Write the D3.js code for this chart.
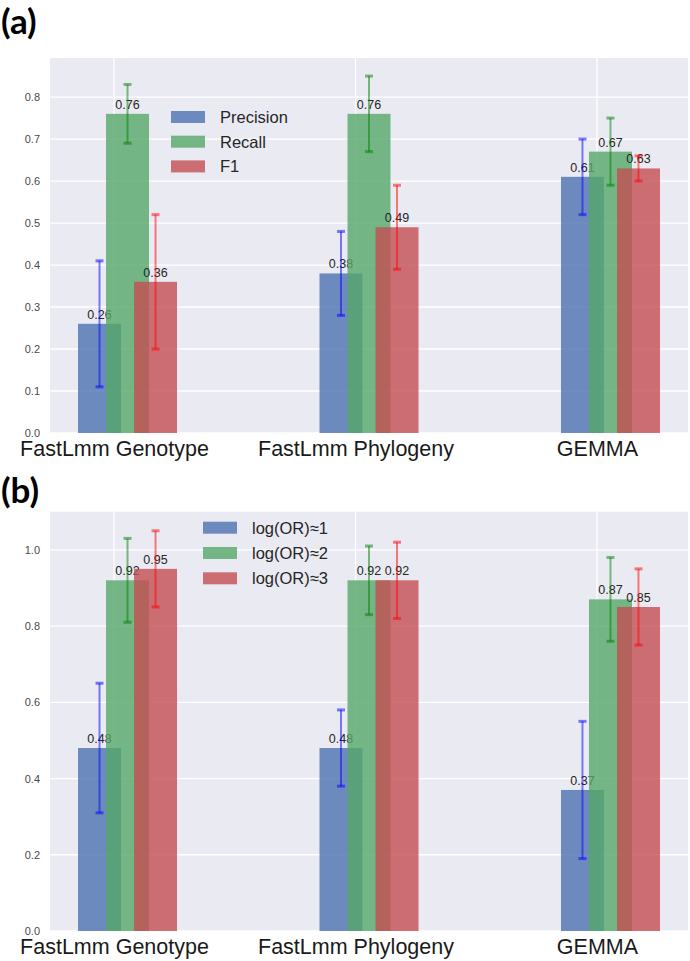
<!DOCTYPE html>
<html><head><meta charset="utf-8">
<script src="https://cdnjs.cloudflare.com/ajax/libs/d3/7.8.5/d3.min.js"></script>
<style>
html,body{margin:0;padding:0;background:#fff;}
svg{display:block;font-family:"Liberation Sans",Arial,sans-serif;}
</style></head>
<body>
<svg id="chart" width="690" height="961"></svg>
<script>
// ---- data ----
const categories = ["FastLmm Genotype", "FastLmm Phylogeny", "GEMMA"];

const seriesA = ["Precision", "Recall", "F1"];
const precision = [0.26, 0.38, 0.61];
const precisionErr = [0.15, 0.10, 0.09];
const recall = [0.76, 0.76, 0.67];
const recallErr = [0.07, 0.09, 0.08];
const f1 = [0.36, 0.49, 0.63];
const f1Err = [0.16, 0.10, 0.03];
const ticksA = [0.0, 0.1, 0.2, 0.3, 0.4, 0.5, 0.6, 0.7, 0.8];

const seriesB = ["log(OR)\u22481", "log(OR)\u22482", "log(OR)\u22483"];
const or1 = [0.48, 0.48, 0.37];
const or1Err = [0.17, 0.10, 0.18];
const or2 = [0.92, 0.92, 0.87];
const or2Err = [0.11, 0.09, 0.11];
const or3 = [0.95, 0.92, 0.85];
const or3Err = [0.10, 0.10, 0.10];
const ticksB = [0.0, 0.2, 0.4, 0.6, 0.8, 1.0];

// ---- style ----
const barColors = ["#4C72B0", "#55A868", "#C44E52"];
const errColors = ["#0000ff", "#008000", "#ff0000"];
const svg = d3.select("#chart");

function panel(cfg) {
  const g = svg.append("g");
  const x = d3.scaleLinear().domain([-0.265, 2.377]).range([50, 688]);
  const y = d3.scaleLinear().domain([0, cfg.ymax]).range([cfg.bottom, cfg.top]);
  const barW = 0.178, offsets = [-0.149, -0.033, 0.083];

  g.append("rect").attr("x", x.range()[0]).attr("y", cfg.top)
    .attr("width", x.range()[1] - x.range()[0]).attr("height", cfg.bottom - cfg.top)
    .attr("fill", "#EAEAF2");

  // grid
  g.selectAll(".hg").data(cfg.ticks).enter().append("line")
    .attr("x1", x.range()[0]).attr("x2", x.range()[1])
    .attr("y1", d => y(d)).attr("y2", d => y(d))
    .attr("stroke", "#fff").attr("stroke-width", 1.3);
  g.selectAll(".vg").data(categories).enter().append("line")
    .attr("x1", (d, i) => x(i)).attr("x2", (d, i) => x(i))
    .attr("y1", cfg.top).attr("y2", cfg.bottom)
    .attr("stroke", "#fff").attr("stroke-width", 1.3);

  // y axis labels
  const yAxis = d3.axisLeft(y).tickValues(cfg.ticks).tickSize(0).tickPadding(10)
    .tickFormat(d3.format(".1f"));
  const ya = g.append("g").attr("transform", `translate(${x.range()[0]},0)`).call(yAxis);
  ya.select(".domain").remove();
  ya.selectAll("text").attr("font-size", 11).attr("fill", "#4a4a4a")
    .attr("font-family", "Liberation Sans, Arial, sans-serif");

  // x axis labels
  const xAxis = d3.axisBottom(x).tickValues([0, 1, 2]).tickSize(0).tickPadding(8)
    .tickFormat(i => categories[i]);
  const xa = g.append("g").attr("transform", `translate(0,${cfg.bottom})`).call(xAxis);
  xa.select(".domain").remove();
  xa.selectAll("text").attr("font-size", 21.5).attr("fill", "#1a1a1a")
    .attr("font-family", "Liberation Sans, Arial, sans-serif");

  // bars
  cfg.values.forEach((vals, s) => {
    const errs = cfg.errors[s];
    const gs = g.append("g");
    gs.selectAll("rect").data(vals).enter().append("rect")
      .attr("x", (d, i) => x(i + offsets[s]))
      .attr("width", x(barW) - x(0))
      .attr("y", d => y(d)).attr("height", d => y(0) - y(d))
      .attr("fill", barColors[s]).attr("fill-opacity", 0.8);
    // value labels
    gs.selectAll("text").data(vals).enter().append("text")
      .attr("x", (d, i) => x(i + offsets[s] + barW / 2))
      .attr("y", d => y(d) - 5)
      .attr("text-anchor", "middle").attr("font-size", 12.5).attr("fill", "#262626")
      .text(d => d.toFixed(2));
    // error bars
    const eg = gs.selectAll(".eb").data(vals).enter().append("g")
      .attr("stroke", errColors[s]).attr("stroke-opacity", 0.5).attr("stroke-width", 2);
    eg.append("line")
      .attr("x1", (d, i) => x(i + offsets[s] + barW / 2))
      .attr("x2", (d, i) => x(i + offsets[s] + barW / 2))
      .attr("y1", (d, i) => y(d - errs[i])).attr("y2", (d, i) => y(d + errs[i]));
    ["lo", "hi"].forEach(k => {
      eg.append("line")
        .attr("x1", (d, i) => x(i + offsets[s] + barW / 2) - 4)
        .attr("x2", (d, i) => x(i + offsets[s] + barW / 2) + 4)
        .attr("y1", (d, i) => y(k === "lo" ? d - errs[i] : d + errs[i]))
        .attr("y2", (d, i) => y(k === "lo" ? d - errs[i] : d + errs[i]))
        .attr("stroke-width", 3);
    });
  });

  // legend
  const lg = g.append("g");
  cfg.series.forEach((name, s) => {
    const cy = cfg.legend.y + s * cfg.legend.dy;
    lg.append("rect").attr("x", cfg.legend.x).attr("y", cy - 6)
      .attr("width", 34).attr("height", 12)
      .attr("fill", barColors[s]).attr("fill-opacity", 0.8);
    lg.append("text").attr("x", cfg.legend.x + 49).attr("y", cy + 6)
      .attr("font-size", 16.5).attr("fill", "#262626").text(name);
  });

  // panel letter
  svg.append("text").attr("x", 1).attr("y", cfg.letterY)
    .attr("font-family", "Lato, 'Open Sans', sans-serif").attr("font-weight", "bold")
    .attr("font-size", 35).attr("fill", "#000").text(cfg.letter);
}

panel({
  top: 58, bottom: 433, ymax: 0.893, ticks: ticksA, series: seriesA,
  values: [precision, recall, f1], errors: [precisionErr, recallErr, f1Err],
  legend: { x: 171, y: 117, dy: 24.7 }, letter: "(a)", letterY: 34
});
panel({
  top: 511.7, bottom: 931, ymax: 1.10, ticks: ticksB, series: seriesB,
  values: [or1, or2, or3], errors: [or1Err, or2Err, or3Err],
  legend: { x: 203, y: 527.7, dy: 25.3 }, letter: "(b)", letterY: 503
});
</script>
</body></html>
